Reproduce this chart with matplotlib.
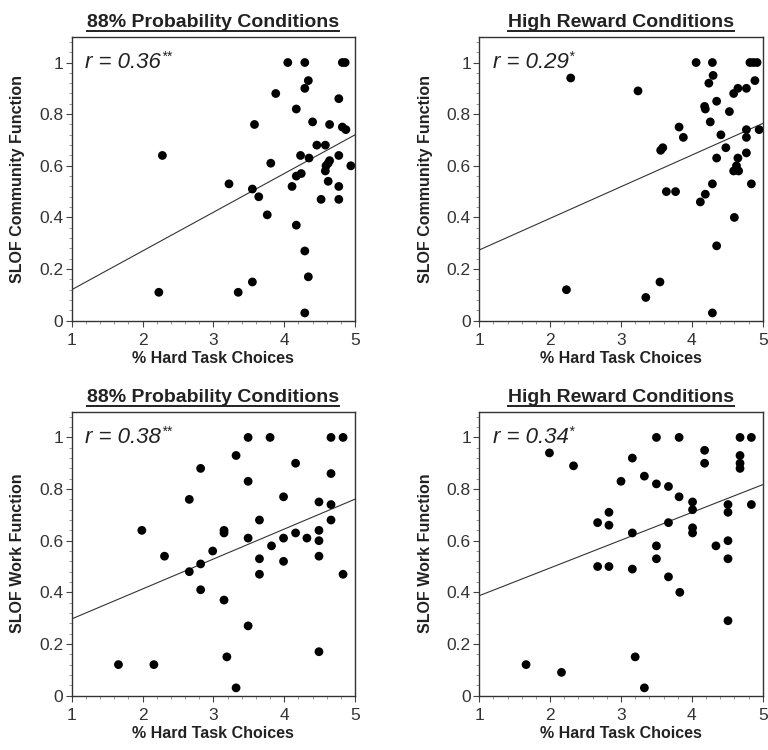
import numpy as np
import matplotlib
matplotlib.use("Agg")
import matplotlib.pyplot as plt
from matplotlib.lines import Line2D
from matplotlib.ticker import MultipleLocator

plt.rcParams['font.family'] = ['Liberation Sans', 'DejaVu Sans']

# --------------------------------------------------------------------------- #
# Data (x = % hard task choices, y = SLOF score)
prob_comm_x = [4.05, 4.29, 4.82, 4.86, 4.34, 4.29, 3.88, 4.77, 4.17, 3.58,
               4.40, 4.64, 4.82, 4.87, 4.46, 4.58, 2.28, 4.23, 4.35, 4.77,
               4.64, 4.62, 4.59, 3.81, 4.94, 4.58, 4.24, 4.17, 4.62, 3.22,
               3.55, 4.11, 4.77, 3.64, 4.52, 4.77, 3.76, 4.17, 4.29, 4.34,
               2.23, 3.35, 3.55, 4.29]
prob_comm_y = [1.00, 1.00, 1.00, 1.00, 0.93, 0.90, 0.88, 0.86, 0.82, 0.76,
               0.77, 0.76, 0.75, 0.74, 0.68, 0.68, 0.64, 0.64, 0.63, 0.64,
               0.62, 0.61, 0.60, 0.61, 0.60, 0.58, 0.57, 0.56, 0.54, 0.53,
               0.51, 0.52, 0.52, 0.48, 0.47, 0.47, 0.41, 0.37, 0.27, 0.17,
               0.11, 0.11, 0.15, 0.03]

rew_comm_x = [2.29, 2.23, 3.24, 3.35, 3.55, 3.56, 3.59, 3.64, 3.77, 3.82,
              3.88, 4.06, 4.29, 4.30, 4.24, 4.18, 4.19, 4.35, 4.26, 4.41,
              4.53, 4.48, 4.35, 4.12, 4.19, 4.29, 4.35, 4.29, 4.59, 4.65,
              4.77, 4.60, 4.65, 4.63, 4.59, 4.66, 4.77, 4.77, 4.77, 4.84,
              4.82, 4.87, 4.92, 4.89, 4.95]
rew_comm_y = [0.94, 0.12, 0.89, 0.09, 0.15, 0.66, 0.67, 0.50, 0.50, 0.75,
              0.71, 1.00, 1.00, 0.95, 0.92, 0.83, 0.82, 0.85, 0.77, 0.72,
              0.81, 0.67, 0.63, 0.46, 0.49, 0.53, 0.29, 0.03, 0.88, 0.90,
              0.90, 0.40, 0.63, 0.60, 0.58, 0.58, 0.74, 0.71, 0.65, 0.53,
              1.00, 1.00, 1.00, 0.93, 0.74]

prob_work_x = [1.66, 2.16, 1.99, 2.31, 2.66, 2.66, 2.82, 2.82, 2.82, 2.99,
               3.15, 3.15, 3.15, 3.19, 3.32, 3.32, 3.49, 3.49, 3.49, 3.49,
               3.65, 3.65, 3.65, 3.80, 3.82, 3.99, 3.99, 3.99, 4.16, 4.16,
               4.32, 4.49, 4.49, 4.49, 4.49, 4.49, 4.66, 4.83, 4.66, 4.66,
               4.66, 4.83]
prob_work_y = [0.12, 0.12, 0.64, 0.54, 0.76, 0.48, 0.88, 0.51, 0.41, 0.56,
               0.64, 0.63, 0.37, 0.15, 0.93, 0.03, 1.00, 0.83, 0.61, 0.27,
               0.68, 0.53, 0.47, 1.00, 0.58, 0.77, 0.61, 0.52, 0.90, 0.63,
               0.61, 0.75, 0.64, 0.60, 0.54, 0.17, 1.00, 1.00, 0.86, 0.74,
               0.68, 0.47]

rew_work_x = [1.66, 1.99, 2.16, 2.33, 2.67, 2.67, 2.83, 2.83, 2.83, 3.00,
              3.16, 3.16, 3.16, 3.20, 3.33, 3.33, 3.50, 3.50, 3.50, 3.50,
              3.67, 3.67, 3.67, 3.82, 3.82, 3.83, 4.01, 4.01, 4.01, 4.01,
              4.18, 4.18, 4.34, 4.51, 4.51, 4.51, 4.51, 4.51, 4.68, 4.68,
              4.68, 4.68, 4.84, 4.84]
rew_work_y = [0.12, 0.94, 0.09, 0.89, 0.67, 0.50, 0.71, 0.66, 0.50, 0.83,
              0.92, 0.63, 0.49, 0.15, 0.85, 0.03, 1.00, 0.82, 0.58, 0.53,
              0.81, 0.67, 0.46, 1.00, 0.77, 0.40, 0.75, 0.72, 0.65, 0.63,
              0.95, 0.90, 0.58, 0.74, 0.71, 0.60, 0.53, 0.29, 1.00, 0.93,
              0.90, 0.88, 1.00, 0.74]

# regression lines as drawn (slope, intercept)
fit_slope = [0.150, 0.1225, 0.116, 0.1075]
fit_icpt = [-0.030, 0.1515, 0.181, 0.2795]

titles = ["88% Probability Conditions", "High Reward Conditions",
          "88% Probability Conditions", "High Reward Conditions"]
ylabels = ["SLOF Community Function", "SLOF Community Function",
           "SLOF Work Function", "SLOF Work Function"]
r_values = ["0.36", "0.29", "0.38", "0.34"]
r_stars = ["**", "*", "**", "*"]

xs = [prob_comm_x, rew_comm_x, prob_work_x, rew_work_x]
ys = [prob_comm_y, rew_comm_y, prob_work_y, rew_work_y]

# --------------------------------------------------------------------------- #
W, H = 768, 750
fig = plt.figure(figsize=(W / 100, H / 100), dpi=100)

# axes boxes in pixels: left, top
boxes = [(71.7, 36.7), (479.3, 36.7), (71.7, 411.6), (479.3, 411.6)]
aw, ah = 283.4, 284.0

txt_col = '#222222'
title_texts = []
for i in range(4):
    left, top = boxes[i]
    ax = fig.add_axes([left / W, 1 - (top + ah) / H, aw / W, ah / H])

    ax.scatter(xs[i], ys[i], s=40, color='black', edgecolors='none', zorder=3)
    xl = np.array([1, 5])
    ax.plot(xl, fit_slope[i] * xl + fit_icpt[i], color='#333333', lw=0.8, zorder=2)

    ax.set_xlim(1, 5)
    ax.set_ylim(0, 1.1)
    ax.xaxis.set_major_locator(MultipleLocator(1))
    ax.xaxis.set_minor_locator(MultipleLocator(0.2))
    ax.yaxis.set_minor_locator(MultipleLocator(0.04))
    ax.set_yticks([0, 0.2, 0.4, 0.6, 0.8, 1.0])
    ax.set_yticklabels(["0", "0.2", "0.4", "0.6", "0.8", "1"])
    ax.tick_params(which='major', direction='out', length=4, width=0.8,
                   labelsize=12.5, colors='#444444', labelcolor='#333333')
    ax.tick_params(axis='x', which='major', pad=5)
    ax.tick_params(axis='y', which='major', pad=2)
    ax.tick_params(which='minor', direction='out', length=2, width=0.6,
                   colors='#888888')
    for sp in ax.spines.values():
        sp.set_linewidth(1.0)
        sp.set_color('#333333')

    ax.set_xlabel("% Hard Task Choices", fontsize=11.5, fontweight='bold',
                  color=txt_col, labelpad=2)
    ax.set_ylabel(ylabels[i], fontsize=11.5, fontweight='bold',
                  color=txt_col, labelpad=10)

    rt = ax.text(1.19, 1.0, "r = " + r_values[i], fontsize=16, style='italic',
                 color=txt_col, va='center', ha='left')
    ax.annotate(r_stars[i], xy=(1.0, 1.12), xycoords=rt, fontsize=10,
                style='italic', color=txt_col, va='top', ha='left')

    # title with underline
    cx = (left + aw / 2) / W
    base_y = 1 - (top - 9.7) / H
    title_texts.append(fig.text(cx, base_y, titles[i], ha='center', va='baseline',
                                fontsize=14, fontweight='bold', color=txt_col))

fig.canvas.draw()
r = fig.canvas.get_renderer()
for t in title_texts:
    bb = t.get_window_extent(renderer=r)
    ybase = t.get_position()[1] * H - 4.0
    fig.add_artist(Line2D([bb.x0 / W, bb.x1 / W], [ybase / H, ybase / H],
                          color=txt_col, lw=1.4))

fig.savefig("out.png", dpi=100)
